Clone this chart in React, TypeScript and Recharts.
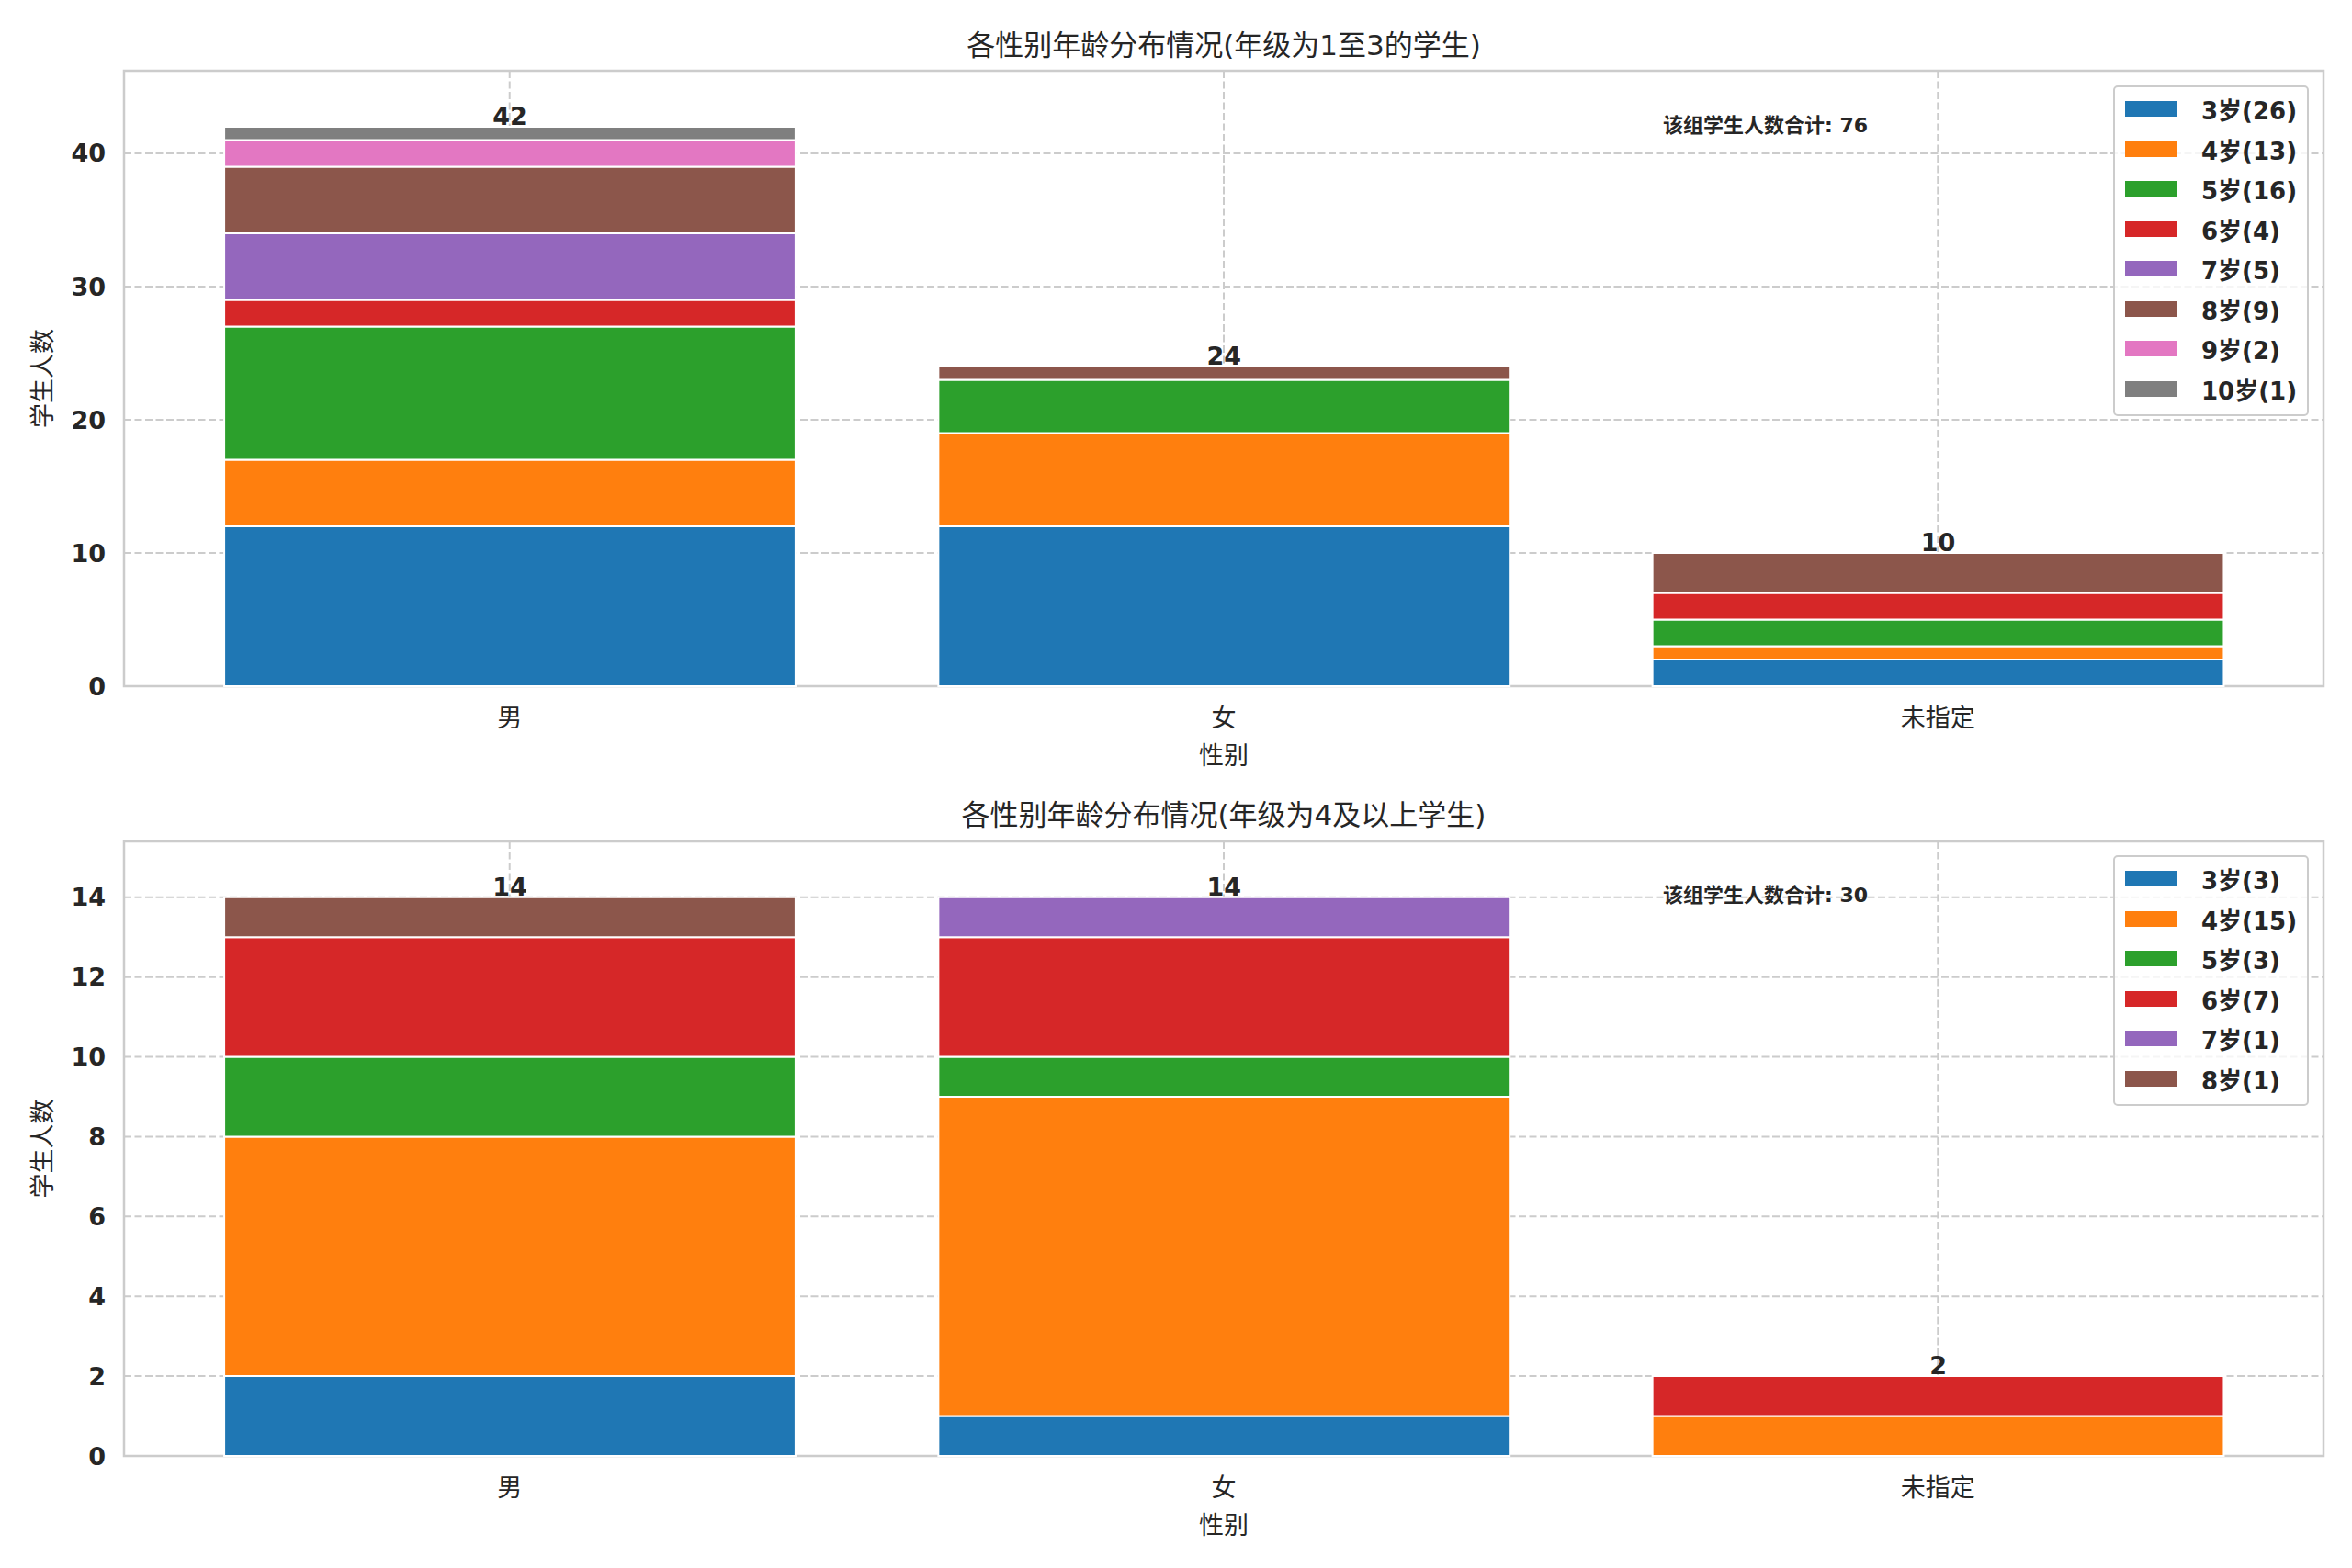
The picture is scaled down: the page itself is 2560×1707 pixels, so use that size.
import React from 'react';
import {
  BarChart,
  Bar,
  XAxis,
  YAxis,
  CartesianGrid,
  Legend,
  LabelList,
  ReferenceArea,
} from 'recharts';

const GENDERS = ['男', '女', '未指定'];
const AGES = ['3岁', '4岁', '5岁', '6岁', '7岁', '8岁', '9岁', '10岁'];
const COLORS = ['#1f77b4', '#ff7f0e', '#2ca02c', '#d62728', '#9467bd', '#8c564b', '#e377c2', '#7f7f7f'];

// 1-3 年级: counts per age (3岁..10岁)
const LOW_MALE = [12, 5, 10, 2, 5, 5, 2, 1];
const LOW_FEMALE = [12, 7, 4, 0, 0, 1, 0, 0];
const LOW_UNKNOWN = [2, 1, 2, 2, 0, 3, 0, 0];

// 4 年级及以上: counts per age (3岁..8岁)
const HIGH_MALE = [2, 6, 2, 3, 0, 1];
const HIGH_FEMALE = [1, 8, 1, 3, 1, 0];
const HIGH_UNKNOWN = [0, 1, 0, 1, 0, 0];

const LOW_TICKS = [0, 10, 20, 30, 40];
const HIGH_TICKS = [0, 2, 4, 6, 8, 10, 12, 14];

const FONT = "'DejaVu Sans', 'Noto Sans CJK SC', sans-serif";
const INK = '#262626';
const EDGE = '#cccccc';
const W = 2560;
const PLOT_LEFT = 135;
const PLOT_RIGHT = 31;
const X_DOMAIN: [number, number] = [-0.54, 2.54];
const UNIT = (W - PLOT_LEFT - PLOT_RIGHT) / (X_DOMAIN[1] - X_DOMAIN[0]);
const BAR_SIZE = 0.8 * UNIT;

type PanelProps = {
  title: string;
  top: number;
  height: number;
  marginTop: number;
  axisHeight: number;
  titleY: number;
  legendTop: number;
  noteTop: number;
  series: number[][];
  yMax: number;
  yTicks: number[];
};

const LegendBox = ({ items }: { items: { label: string; color: string }[] }) => (
  <div
    style={{
      width: 213,
      boxSizing: 'border-box',
      border: `2px solid ${EDGE}`,
      borderRadius: 5,
      background: 'rgba(255,255,255,0.8)',
      padding: '2px 0 6px 0',
      fontFamily: FONT,
      fontWeight: 'bold',
      fontSize: 26,
      color: INK,
    }}
  >
    {items.map((it) => (
      <div key={it.label} style={{ display: 'flex', alignItems: 'center', height: 43.5, whiteSpace: 'nowrap' }}>
        <span style={{ display: 'inline-block', width: 56, height: 17, background: it.color, marginLeft: 11, marginRight: 27 }} />
        <span>{it.label}</span>
      </div>
    ))}
  </div>
);

const Panel = ({ title, top, height, marginTop, axisHeight, titleY, legendTop, noteTop, series, yMax, yTicks }: PanelProps) => {
  const nAges = series[0].length;
  const rows = GENDERS.map((g, i) => {
    const row: Record<string, number | string> = { pos: i, gender: g };
    let total = 0;
    for (let k = 0; k < nAges; k++) {
      row['s' + k] = series[i][k];
      total += series[i][k];
    }
    row.total = total;
    return row;
  });
  // index of the highest non-empty segment of each stack, where the total is written
  const topSeg = series.map((r) => r.reduce((last, v, k) => (v > 0 ? k : last), -1));
  const items = AGES.slice(0, nAges).map((a, k) => ({
    label: `${a}(${series.reduce((s, r) => s + r[k], 0)})`,
    color: COLORS[k],
  }));
  const grand = series.reduce((s, r) => s + r.reduce((a, b) => a + b, 0), 0);

  const totalLabel = (k: number) => (props: any) => {
    const cx = Number(props.x) + Number(props.width) / 2;
    // which category this bar belongs to (label indices skip empty segments)
    const i = Math.round((cx - PLOT_LEFT) / UNIT + X_DOMAIN[0]);
    if (topSeg[i] !== k) return null;
    return (
      <text
        x={cx}
        y={Number(props.y) - 2}
        textAnchor="middle"
        fill={INK}
        fontSize={27}
        fontWeight="bold"
        fontFamily={FONT}
      >
        {rows[i].total}
      </text>
    );
  };

  return (
    <div style={{ position: 'absolute', left: 0, top, width: W, height }}>
      <div
        style={{
          position: 'absolute',
          left: PLOT_LEFT,
          width: W - PLOT_LEFT - PLOT_RIGHT,
          top: titleY - 20,
          lineHeight: '40px',
          textAlign: 'center',
          fontFamily: FONT,
          fontSize: 31,
          color: INK,
        }}
      >
        {title}
      </div>
      <div
        style={{
          position: 'absolute',
          left: 1810,
          top: noteTop - 14,
          lineHeight: '28px',
          fontFamily: FONT,
          fontSize: 22,
          fontWeight: 'bold',
          color: INK,
          zIndex: 2,
        }}
      >
        该组学生人数合计: {grand}
      </div>
      <BarChart
        width={W}
        height={height}
        data={rows}
        margin={{ top: marginTop, right: PLOT_RIGHT, bottom: 0, left: 0 }}
      >
        <CartesianGrid stroke={EDGE} strokeDasharray="8 3.5" strokeWidth={2} />
        <XAxis
          type="number"
          dataKey="pos"
          domain={X_DOMAIN}
          ticks={[0, 1, 2]}
          tickFormatter={(v: number) => GENDERS[v]}
          height={axisHeight}
          axisLine={false}
          tickLine={false}
          tickSize={0}
          tickMargin={25}
          tick={{ fill: INK, fontSize: 27, fontFamily: FONT }}
          label={{ value: '性别', position: 'insideTop', offset: 66, fill: INK, fontSize: 27, fontFamily: FONT }}
        />
        <YAxis
          domain={[0, yMax]}
          ticks={yTicks}
          width={PLOT_LEFT}
          axisLine={false}
          tickLine={false}
          tickSize={0}
          tickMargin={20}
          tick={{ fill: INK, fontSize: 27, fontFamily: FONT, fontWeight: 'bold' }}
          label={{
            value: '学生人数',
            angle: -90,
            position: 'insideLeft',
            offset: 46,
            fill: INK,
            fontSize: 27,
            fontFamily: FONT,
            style: { textAnchor: 'middle' },
          }}
        />
        {items.map((it, k) => (
          <Bar
            key={it.label}
            dataKey={'s' + k}
            name={it.label}
            stackId="a"
            fill={it.color}
            stroke="#ffffff"
            strokeWidth={2}
            barSize={BAR_SIZE}
            isAnimationActive={false}
          >
            <LabelList dataKey={'s' + k} content={totalLabel(k)} />
          </Bar>
        ))}
        <ReferenceArea
          x1={X_DOMAIN[0]}
          x2={X_DOMAIN[1]}
          y1={0}
          y2={yMax}
          fill="none"
          stroke={EDGE}
          strokeWidth={2.5}
        />
        <Legend
          layout="vertical"
          align="center"
          verticalAlign="middle"
          wrapperStyle={{ left: 2300, top: legendTop, width: 213 }}
          content={() => <LegendBox items={items} />}
        />
      </BarChart>
    </div>
  );
};

export default function App() {
  return (
    <div style={{ position: 'absolute', left: 0, top: 0, width: W, height: 1707, background: '#ffffff' }}>
      <Panel
        title="各性别年龄分布情况(年级为1至3的学生)"
        top={0}
        height={853}
        marginTop={77}
        axisHeight={106}
        titleY={49}
        legendTop={93}
        noteTop={137}
        series={[LOW_MALE, LOW_FEMALE, LOW_UNKNOWN]}
        yMax={46.2}
        yTicks={LOW_TICKS}
      />
      <Panel
        title="各性别年龄分布情况(年级为4及以上学生)"
        top={853}
        height={854}
        marginTop={63}
        axisHeight={122}
        titleY={34}
        legendTop={78}
        noteTop={122}
        series={[HIGH_MALE, HIGH_FEMALE, HIGH_UNKNOWN]}
        yMax={15.4}
        yTicks={HIGH_TICKS}
      />
    </div>
  );
}
